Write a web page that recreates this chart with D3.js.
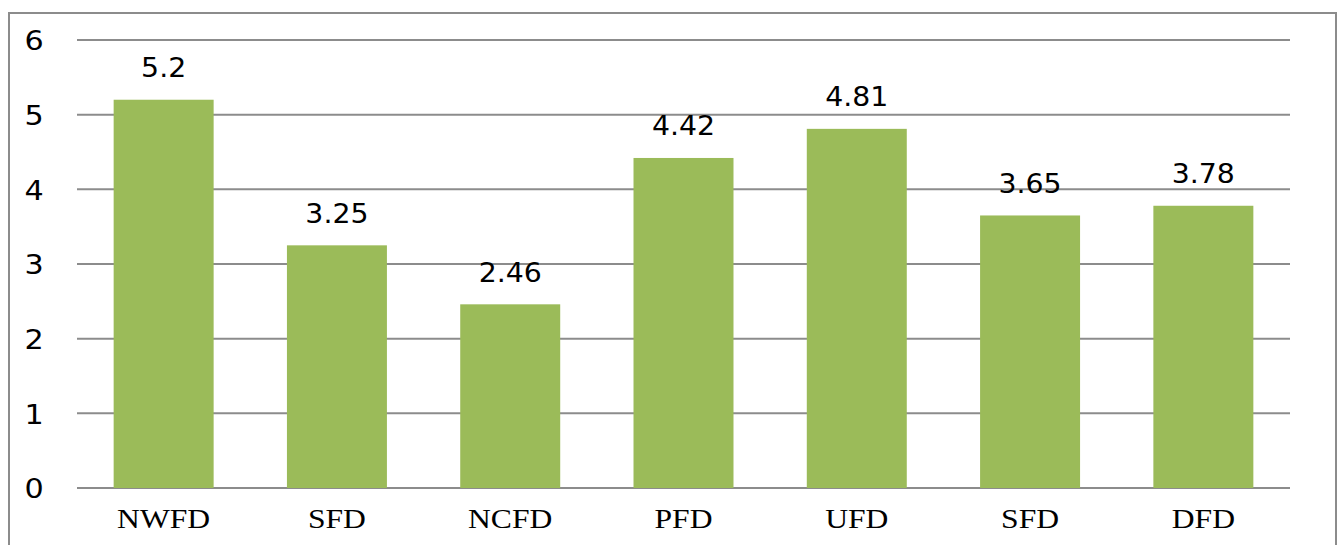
<!DOCTYPE html>
<html><head><meta charset="utf-8">
<script src="https://cdn.jsdelivr.net/npm/d3@7"></script>
<style>body{margin:0;background:#fff}svg{display:block}</style>
</head><body>
<svg id="c" width="1343" height="545"></svg>
<script>
const categories = ["NWFD","SFD","NCFD","PFD","UFD","SFD ","DFD"];
const values = [5.2,3.25,2.46,4.42,4.81,3.65,3.78];
const valueLabels = ["5.2","3.25","2.46","4.42","4.81","3.65","3.78"];
const yTicks = [0,1,2,3,4,5,6];

const svg = d3.select("#c");
const m = {left:77, right:1290, top:40, bottom:488};
const x = d3.scaleBand().domain(categories).range([m.left,m.right]).paddingInner(0.423).paddingOuter(0.2115);
const y = d3.scaleLinear().domain([0,6]).range([m.bottom,m.top]);

// frame
svg.append("rect").attr("x",9).attr("y",13).attr("width",1327).attr("height",560)
  .attr("fill","none").attr("stroke","#8c8c8c").attr("stroke-width",2);

// gridlines
svg.append("g").selectAll("line").data(yTicks).join("line")
  .attr("x1",m.left).attr("x2",m.right)
  .attr("y1",d=>y(d)).attr("y2",d=>y(d))
  .attr("stroke","#8c8c8c").attr("stroke-width",2);

// y labels
const yAxis = d3.axisLeft(y).tickValues(yTicks).tickSize(0).tickPadding(0).tickFormat(d3.format("d"));
const ga = svg.append("g").attr("transform","translate(34,0)").call(yAxis);
ga.select(".domain").remove();
ga.selectAll("text").attr("text-anchor","middle").attr("font-family","DejaVu Sans").attr("font-size",27)
  .attr("fill","#000").attr("dy","0.36em").attr("transform","scale(1.12,1)");

// bars
svg.append("g").selectAll("rect").data(values).join("rect")
  .attr("x",(d,i)=>x(categories[i])).attr("width",x.bandwidth())
  .attr("y",d=>y(d)).attr("height",d=>y(0)-y(d))
  .attr("fill","#9BBB59");

// value labels
svg.append("g").selectAll("text").data(values).join("text")
  .attr("transform",(d,i)=>`translate(${x(categories[i])+x.bandwidth()/2},${y(d)-22.5}) scale(1.05,1)`)
  .attr("text-anchor","middle")
  .attr("font-family","DejaVu Sans").attr("font-size",27).attr("fill","#000")
  .text((d,i)=>valueLabels[i]);

// x labels
const xAxis = d3.axisBottom(x).tickSize(0).tickPadding(0).tickFormat(d=>d.trim());
const gx = svg.append("g").attr("transform","translate(0,528)").call(xAxis);
gx.select(".domain").remove();
gx.selectAll("text").attr("font-family","Liberation Serif").attr("font-size",28).attr("fill","#000")
  .attr("dy","0").attr("transform","scale(1.13,1)");
</script>
</body></html>
